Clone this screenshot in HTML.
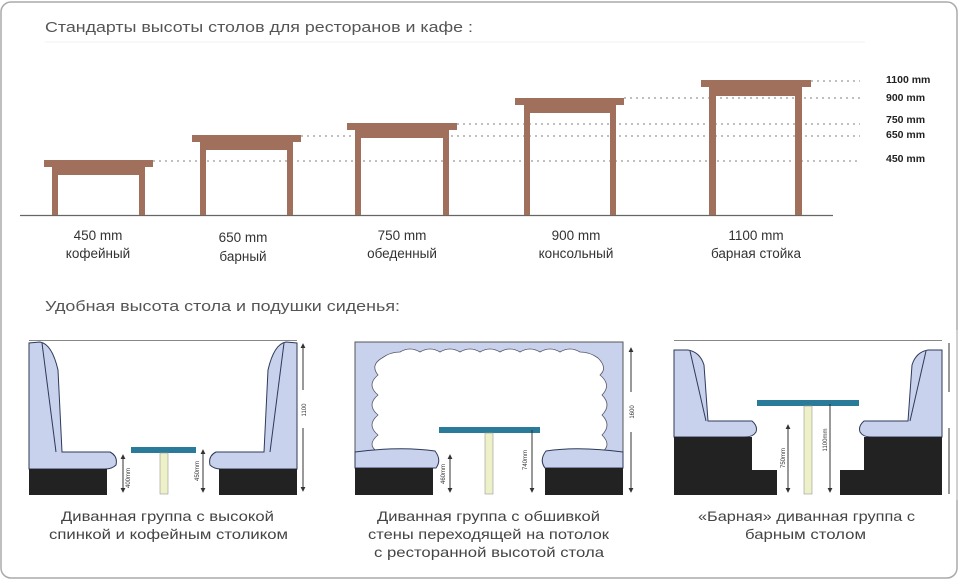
<!DOCTYPE html>
<html><head><meta charset="utf-8"><style>
html,body{margin:0;padding:0;background:#fff;}
svg{display:block;font-family:"Liberation Sans",sans-serif;}
</style></head><body>
<svg width="960" height="580" viewBox="0 0 960 580" xmlns="http://www.w3.org/2000/svg">
<defs>
<marker id="a" viewBox="0 0 6 6" refX="5" refY="3" markerWidth="5" markerHeight="5" orient="auto-start-reverse"><path d="M0,0 L6,3 L0,6 Z" fill="#333"/></marker>
</defs>
<rect x="1" y="2" width="956" height="576" rx="10" fill="#fff" stroke="#aaa" stroke-width="1.5"/>
<text x="45" y="32" font-size="15" fill="#555" textLength="428" lengthAdjust="spacingAndGlyphs">Стандарты высоты столов для ресторанов и кафе :</text>
<line x1="45" y1="42" x2="865" y2="42" stroke="#f0f0f0"/>
<g stroke="#999" stroke-width="1.2" stroke-dasharray="2,4">
<line x1="811" y1="81" x2="860" y2="81"/>
<line x1="624" y1="98" x2="860" y2="98"/>
<line x1="457" y1="124" x2="860" y2="124"/>
<line x1="301" y1="136" x2="860" y2="136"/>
<line x1="153" y1="161" x2="860" y2="161"/>
</g>
<g font-size="10.5" font-weight="bold" fill="#222">
<text x="886" y="83">1100 mm</text>
<text x="886" y="101">900 mm</text>
<text x="886" y="123">750 mm</text>
<text x="886" y="138">650 mm</text>
<text x="886" y="162">450 mm</text>
</g>
<line x1="20" y1="215.5" x2="833" y2="215.5" stroke="#666" stroke-width="1.2"/>
<g fill="#a0705c">
<rect x="44" y="160" width="109" height="7"/><rect x="52" y="167" width="93" height="8"/><rect x="52" y="175" width="6" height="40"/><rect x="139" y="175" width="6" height="40"/>
<rect x="192" y="135" width="109" height="7"/><rect x="200" y="142" width="93" height="8"/><rect x="200" y="150" width="6" height="65"/><rect x="287" y="150" width="6" height="65"/>
<rect x="347" y="123" width="110" height="7"/><rect x="355" y="130" width="94" height="8"/><rect x="355" y="138" width="6" height="77"/><rect x="443" y="138" width="6" height="77"/>
<rect x="515" y="98" width="109" height="7"/><rect x="524" y="105" width="92" height="8"/><rect x="524" y="113" width="6" height="102"/><rect x="610" y="113" width="6" height="102"/>
<rect x="701" y="80" width="110" height="7"/><rect x="709" y="87" width="93" height="9"/><rect x="709" y="96" width="7" height="119"/><rect x="795" y="96" width="7" height="119"/>
</g>
<g font-size="13.5" fill="#333" text-anchor="middle">
<text x="98" y="240">450 mm</text><text x="98" y="258">кофейный</text>
<text x="243" y="242">650 mm</text><text x="243" y="261">барный</text>
<text x="402" y="240">750 mm</text><text x="402" y="258">обеденный</text>
<text x="576" y="240">900 mm</text><text x="576" y="258">консольный</text>
<text x="756" y="240">1100 mm</text><text x="756" y="258">барная стойка</text>
</g>
<text x="45" y="311" font-size="14.5" fill="#555" textLength="355" lengthAdjust="spacingAndGlyphs">Удобная высота стола и подушки сиденья:</text>

<!-- Panel 1 -->
<line x1="29" y1="340.5" x2="297" y2="340.5" stroke="#888"/>
<g fill="#c8d2ec" stroke="#2e3a5a" stroke-width="1">
<path d="M29,469 V343 L40,342 Q52,344 58,370 L62,452 L110,452 Q118,456 116,465 Q112,469 105,469 Z"/>
<path d="M297,469 V343 L286,342 Q274,344 268,370 L264,452 L216,452 Q208,456 210,465 Q214,469 221,469 Z"/>
</g>
<path d="M42,343 L56,452" stroke="#2e3a5a" fill="none"/><path d="M284,343 L270,452" stroke="#2e3a5a" fill="none"/>
<rect x="29" y="469" width="78" height="26" fill="#222"/><rect x="219" y="469" width="78" height="26" fill="#222"/>
<rect x="131" y="447" width="65" height="6" fill="#2a7a9a"/>
<rect x="160" y="453" width="8" height="41" fill="#eef0c8" stroke="#999" stroke-width=".6"/>
<g stroke="#333" stroke-width="1" marker-start="url(#a)" marker-end="url(#a)"><line x1="123" y1="455" x2="123" y2="492"/><line x1="203" y1="450" x2="203" y2="492"/></g>
<g stroke="#333"><line x1="303" y1="344" x2="303" y2="390" marker-start="url(#a)"/><line x1="303" y1="428" x2="303" y2="491" marker-end="url(#a)"/></g>
<g font-size="6" fill="#333"><text transform="translate(130,478) rotate(-90)" text-anchor="middle">400mm</text><text transform="translate(199,471) rotate(-90)" text-anchor="middle">450mm</text><text transform="translate(306,410) rotate(-90)" text-anchor="middle">1100</text></g>
<!-- Panel 2 -->
<rect x="355" y="342" width="268" height="126" fill="#c8d2ec" stroke="#555"/>
<path d="M382,358 Q390,352 400,352 Q410,346 420,352 Q430,346 440,352 Q450,346 460,352 Q470,346 480,352 Q490,346 500,352 Q510,346 520,352 Q530,346 540,352 Q550,346 560,352 Q570,346 580,352 Q590,352 598,358 Q608,368 600,375 Q612,385 602,395 Q612,405 602,415 Q612,425 602,435 Q612,445 602,452 L602,469 L378,469 L378,452 Q366,445 378,435 Q366,425 378,415 Q366,405 378,395 Q366,385 378,375 Q370,365 382,358 Z" fill="#fff" stroke="#556" stroke-width=".8"/>
<rect x="354" y="468" width="270" height="28" fill="#fff"/>
<path d="M355,452 Q400,446 435,451 Q442,460 436,468 L355,468 Z" fill="#c8d2ec" stroke="#2e3a5a"/>
<path d="M623,452 Q578,446 546,451 Q539,460 545,468 L623,468 Z" fill="#c8d2ec" stroke="#2e3a5a"/>
<rect x="355" y="468" width="78" height="27" fill="#222"/><rect x="545" y="468" width="78" height="27" fill="#222"/>
<rect x="439" y="427" width="101" height="6" fill="#2a7a9a"/>
<rect x="485" y="433" width="8" height="61" fill="#eef0c8" stroke="#999" stroke-width=".6"/>
<g stroke="#333" marker-start="url(#a)" marker-end="url(#a)"><line x1="450" y1="455" x2="450" y2="492"/></g>
<line x1="532" y1="430" x2="532" y2="492" stroke="#333" marker-end="url(#a)"/>
<g stroke="#333"><line x1="631" y1="348" x2="631" y2="392" marker-start="url(#a)"/><line x1="631" y1="432" x2="631" y2="492" marker-end="url(#a)"/></g>
<g font-size="6" fill="#333"><text transform="translate(445,474) rotate(-90)" text-anchor="middle">460mm</text><text transform="translate(527,460) rotate(-90)" text-anchor="middle">740mm</text><text transform="translate(634,412) rotate(-90)" text-anchor="middle">1600</text></g>
<!-- Panel 3 -->
<line x1="674" y1="340.5" x2="942" y2="340.5" stroke="#888"/>
<g fill="#c8d2ec" stroke="#2e3a5a">
<path d="M674,437 V350 L688,350 Q700,352 704,365 L708,421 L752,421 Q758,426 756,432 Q753,437 745,437 Z"/>
<path d="M942,437 V350 L928,350 Q916,352 912,365 L908,421 L864,421 Q858,426 860,432 Q863,437 871,437 Z"/>
</g>
<path d="M690,351 L706,421" stroke="#2e3a5a" fill="none"/><path d="M926,351 L910,421" stroke="#2e3a5a" fill="none"/>
<path d="M674,437 H752 V470 H777 V495 H674 Z" fill="#222"/>
<path d="M942,437 H864 V470 H840 V495 H942 Z" fill="#222"/>
<rect x="757" y="400" width="102" height="6" fill="#2a7a9a"/>
<rect x="804" y="406" width="8" height="88" fill="#eef0c8" stroke="#999" stroke-width=".6"/>
<g stroke="#333" marker-start="url(#a)" marker-end="url(#a)"><line x1="788" y1="425" x2="788" y2="492"/></g>
<line x1="830" y1="404" x2="830" y2="492" stroke="#333" marker-end="url(#a)"/>
<g stroke="#333"><line x1="949" y1="343" x2="949" y2="392"/><line x1="949" y1="428" x2="949" y2="494"/></g>
<g font-size="6" fill="#333"><text transform="translate(785,458) rotate(-90)" text-anchor="middle">750mm</text><text transform="translate(827,440) rotate(-90)" text-anchor="middle">1100mm</text></g>
<line x1="957" y1="330" x2="957" y2="500" stroke="#ccc"/>
<g font-size="14" fill="#444">
<text x="61" y="521" textLength="213" lengthAdjust="spacingAndGlyphs">Диванная группа с высокой</text>
<text x="49" y="539" textLength="239" lengthAdjust="spacingAndGlyphs">спинкой и кофейным столиком</text>
<text x="377" y="521" textLength="223" lengthAdjust="spacingAndGlyphs">Диванная группа с обшивкой</text>
<text x="368" y="539" textLength="241" lengthAdjust="spacingAndGlyphs">стены переходящей на потолок</text>
<text x="374" y="557" textLength="230" lengthAdjust="spacingAndGlyphs">с ресторанной высотой стола</text>
<text x="698" y="521" textLength="217" lengthAdjust="spacingAndGlyphs">«Барная» диванная группа с</text>
<text x="745" y="539" textLength="121" lengthAdjust="spacingAndGlyphs">барным столом</text>
</g>
</svg>
</body></html>
